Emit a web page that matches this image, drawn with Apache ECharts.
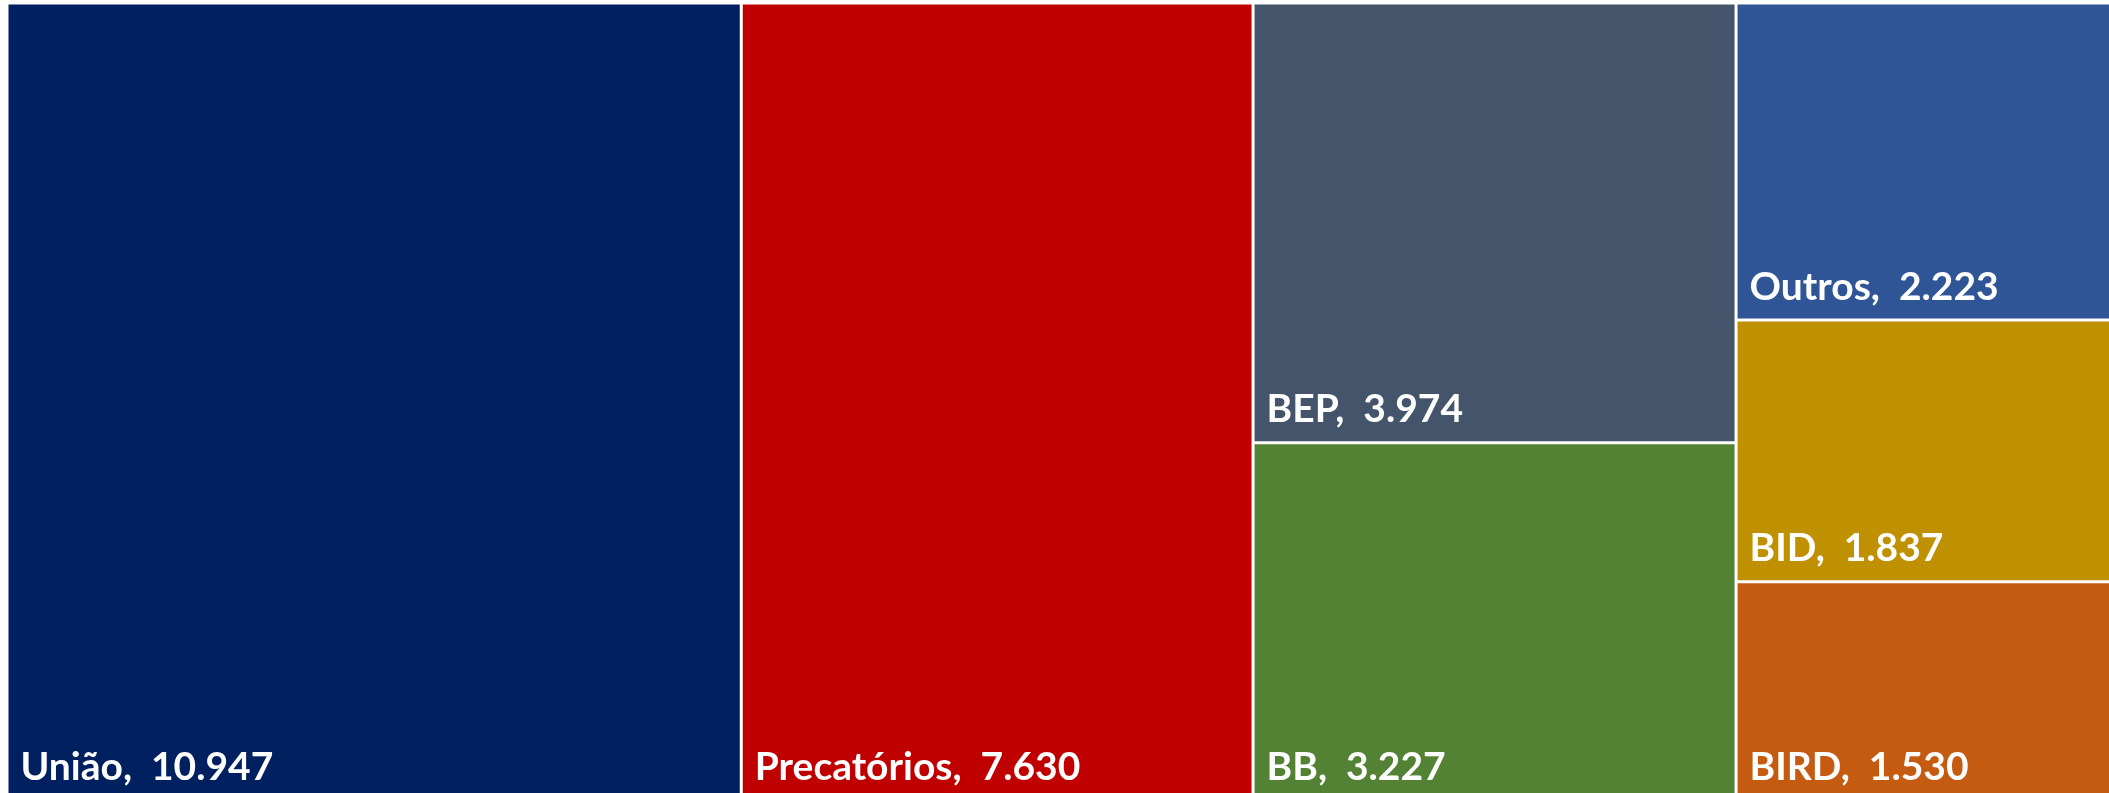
<!DOCTYPE html>
<html>
<head>
<meta charset="utf-8">
<script src="https://cdn.jsdelivr.net/npm/echarts@6/dist/echarts.min.js"></script>
<style>
  html, body { margin: 0; padding: 0; background: #fff; }
  #main { width: 2109px; height: 793px; }
</style>
</head>
<body>
<div id="main"></div>
<script>
// dados (valores em milhões)
var names = ['União', 'Precatórios', 'BEP', 'BB', 'Outros', 'BID', 'BIRD'];
var values = [10947, 7630, 3974, 3227, 2223, 1837, 1530];
var colors = ['#002060', '#C00000', '#44546A', '#548235', '#2F5597', '#BF9000', '#C55A11'];
// colunas do treemap (índices)
var groups = [[0], [1], [2, 3], [4, 5, 6]];

function fmt(v) {
    return String(v).replace(/\B(?=(\d{3})+(?!\d))/g, '.');
}

function leaf(i) {
    return {
        name: names[i],
        value: values[i],
        itemStyle: { color: colors[i] }
    };
}

var data = groups.map(function (g, k) {
    if (g.length == 1) return leaf(g[0]);
    return {
        name: 'grupo' + k,
        children: g.map(leaf)
    };
});

var chart = echarts.init(document.getElementById('main'));
chart.setOption({
    backgroundColor: '#fff',
    series: [{
        type: 'treemap',
        left: 8.5,
        top: 4.5,
        width: 2101,
        height: 794,
        roam: false,
        nodeClick: false,
        animation: false,
        squareRatio: 0.05,
        breadcrumb: { show: false },
        label: {
            show: true,
            position: 'insideBottomLeft',
            distance: 7,
            color: '#fff',
            fontFamily: 'Lato',
            fontWeight: 'bold',
            fontSize: 39,
            formatter: function (p) {
                return p.name + ',  ' + fmt(p.value);
            }
        },
        upperLabel: { show: false },
        levels: [
            { itemStyle: { borderWidth: 0, gapWidth: 3 } },
            { itemStyle: { borderWidth: 0, gapWidth: 3 } },
            { itemStyle: { borderWidth: 0, gapWidth: 0 } }
        ],
        data: data
    }]
});
</script>
</body>
</html>
